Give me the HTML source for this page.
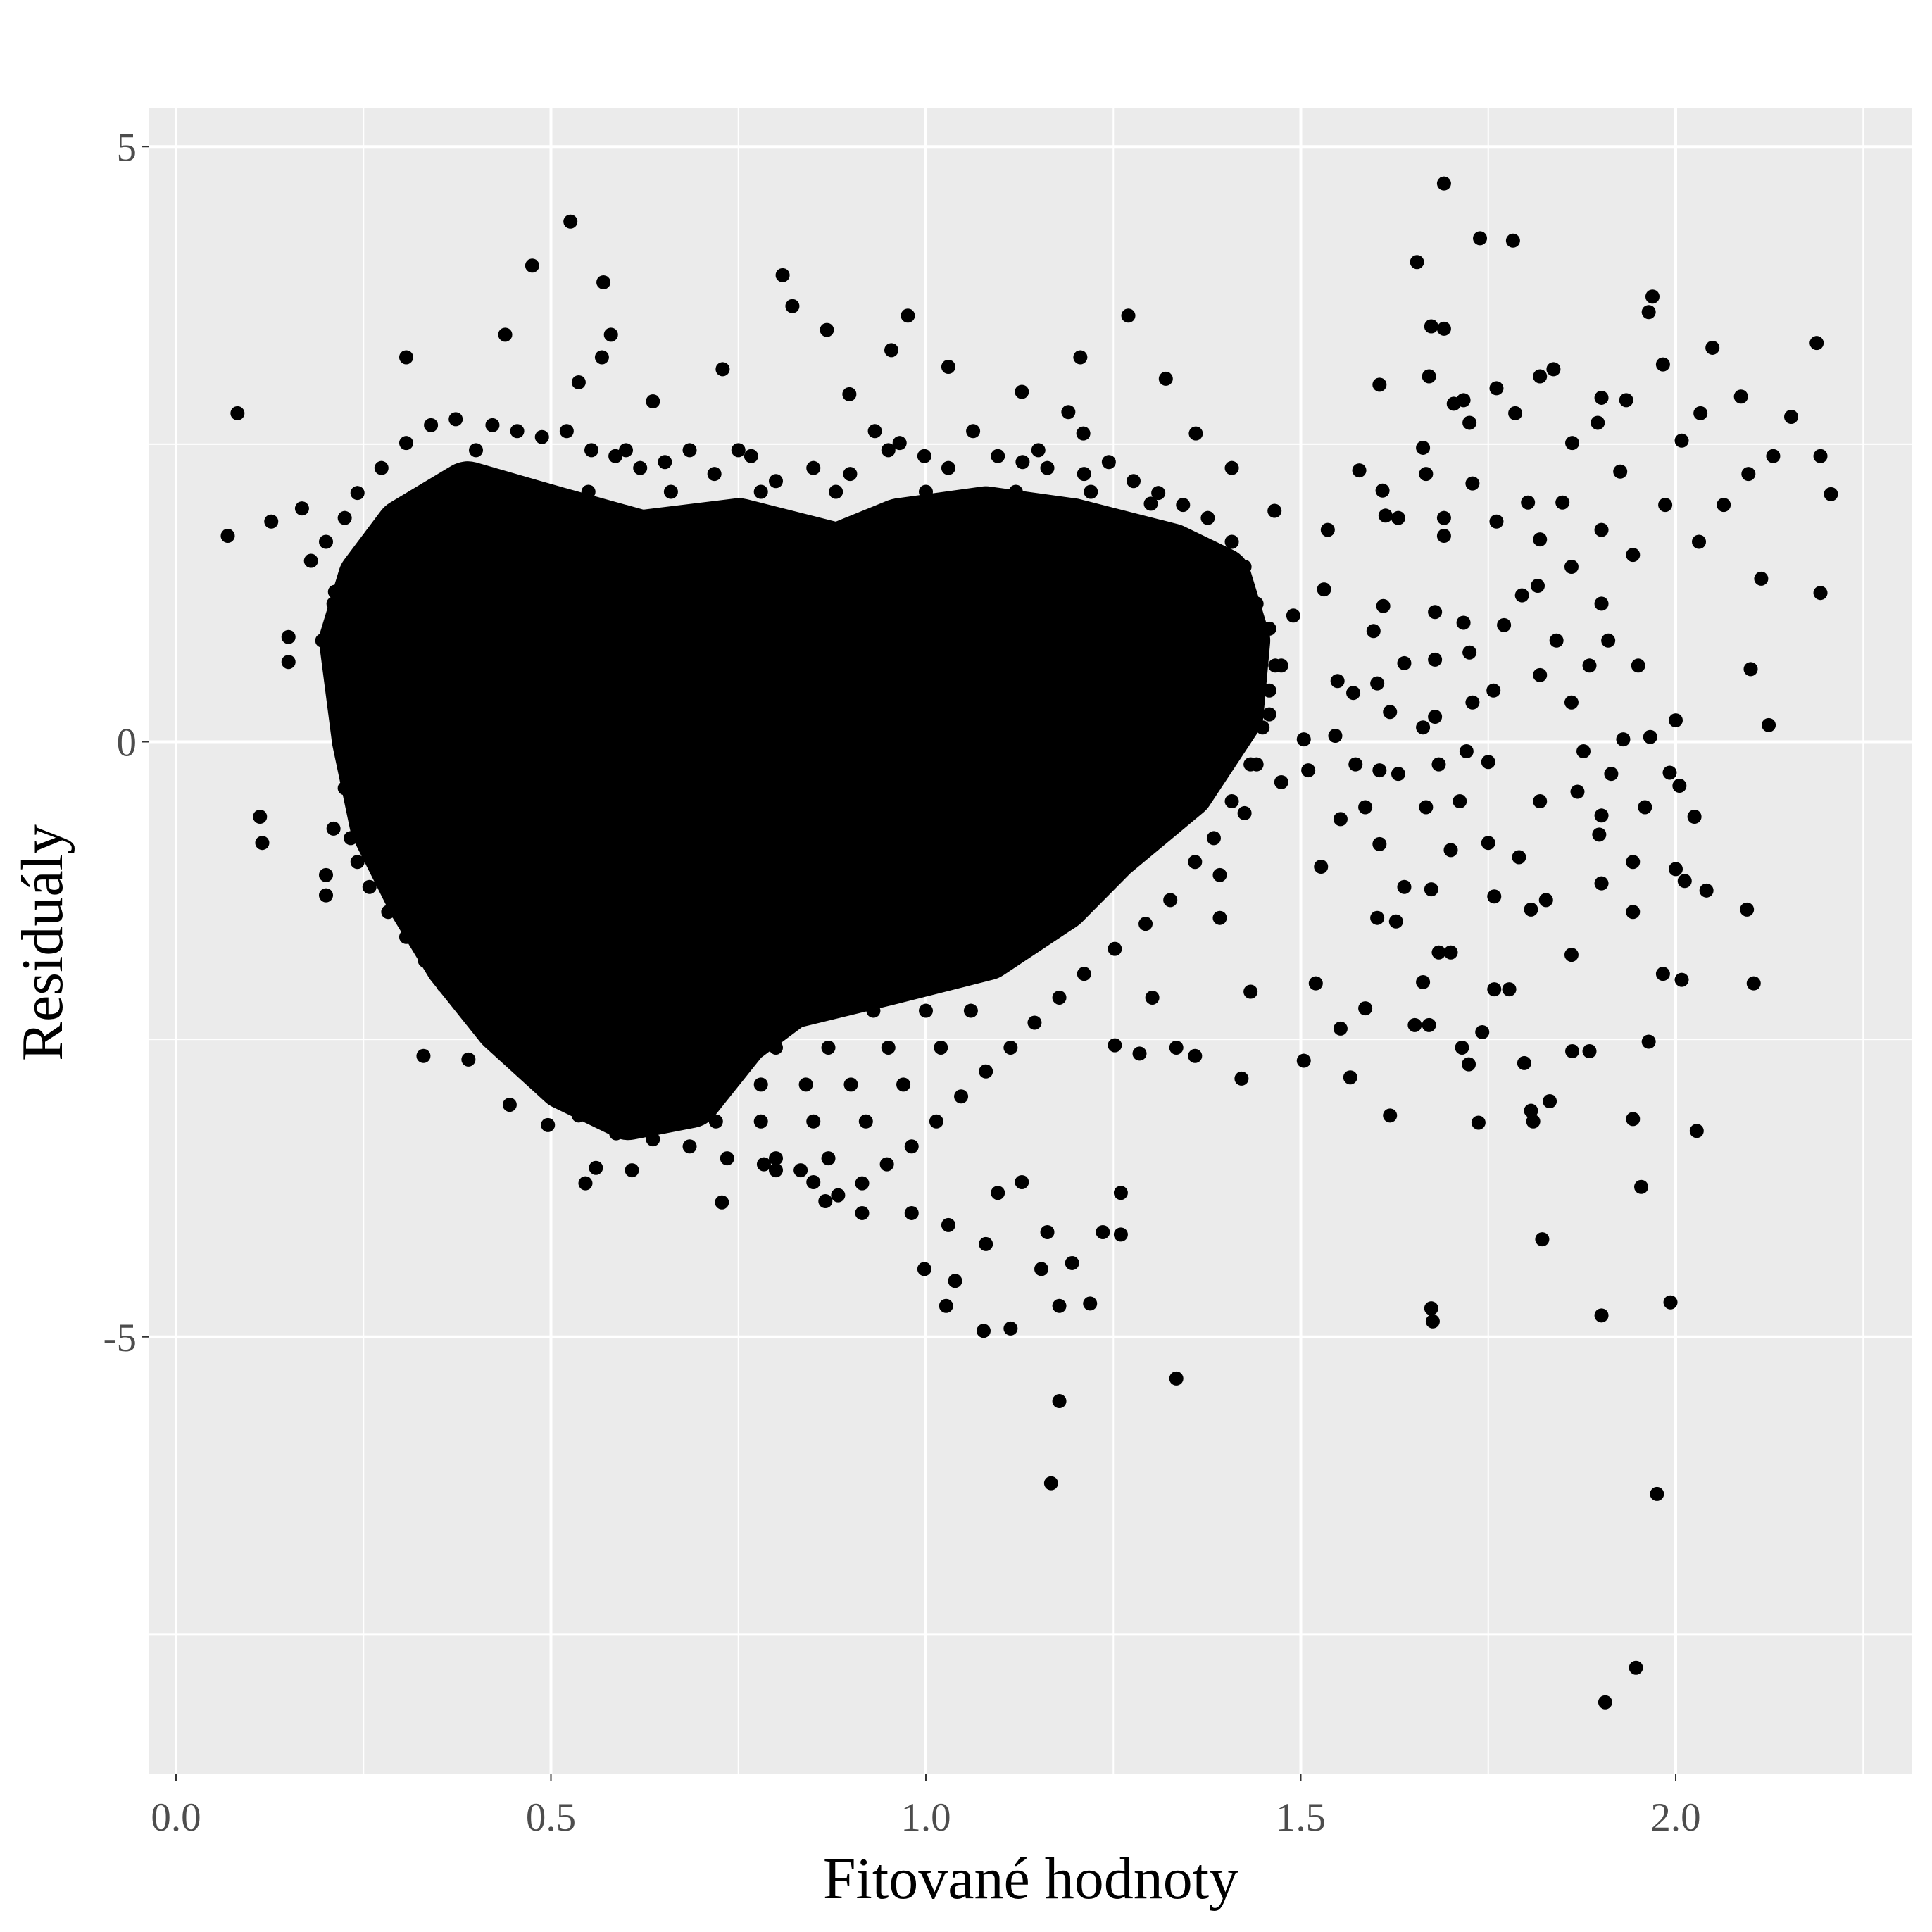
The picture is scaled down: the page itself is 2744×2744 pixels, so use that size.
<!DOCTYPE html>
<html><head><meta charset="utf-8"><style>
html,body{margin:0;padding:0;background:#fff;}
svg{display:block;}
text{font-family:"Liberation Serif",serif;}
</style></head><body>
<svg id="chart" width="2744" height="2744" viewBox="0 0 2744 2744" xmlns="http://www.w3.org/2000/svg"></svg>
<script>
const xMajorTicks=[0,0.5,1.0,1.5,2.0];
const xTickLabels=["0.0","0.5","1.0","1.5","2.0"];
const xMinorTicks=[0.25,0.75,1.25,1.75,2.25];
const yMajorTicks=[5,0,-5];
const yTickLabels=["5","0","-5"];
const yMinorTicks=[2.5,-2.5,-7.5];
// dense core region of points (fitted, residual)
const blobFitted=[0.258,0.307,0.389,0.505,0.62,0.751,0.883,0.965,1.08,1.195,1.326,1.392,1.417,1.408,1.343,1.244,1.178,1.08,0.948,0.817,0.751,0.685,0.603,0.521,0.439,0.373,0.324,0.274,0.25,0.233];
const blobResid=[1.37,1.78,2.09,1.88,1.68,1.78,1.57,1.78,1.88,1.78,1.57,1.37,0.85,0.23,-0.39,-0.91,-1.33,-1.74,-1.95,-2.15,-2.46,-2.98,-3.08,-2.83,-2.36,-1.84,-1.33,-0.70,0.02,0.85];
// points along the fuzzy edge of the dense cloud
const edgePts=[[0.225,1.88],[0.242,2.09],[0.274,2.30],[0.307,2.51],[0.34,2.66],[0.373,2.71],[0.422,2.66],[0.455,2.61],[0.488,2.56],[0.521,2.61],[0.554,2.45],[0.586,2.40],[0.619,2.30],[0.652,2.35],[0.685,2.45],[0.718,2.25],[0.767,2.40],[0.80,2.19],[0.85,2.30],[0.899,2.25],[0.932,2.61],[0.965,2.51],[0.998,2.40],[1.03,2.30],[1.063,2.61],[1.096,2.40],[1.129,2.35],[1.162,2.30],[1.211,2.25],[1.244,2.35],[1.277,2.19],[1.31,2.09],[1.343,1.99],[1.376,1.88],[1.408,1.68],[1.425,1.47],[1.441,1.16],[1.458,0.95],[1.466,0.64],[1.458,0.43],[1.449,0.12],[1.433,-0.19],[1.408,-0.50],[1.384,-0.81],[1.359,-1.01],[1.326,-1.33],[1.293,-1.53],[1.252,-1.74],[1.211,-1.95],[1.178,-2.15],[1.145,-2.36],[1.113,-2.57],[1.08,-2.77],[1.047,-2.98],[1.014,-3.19],[0.981,-3.40],[0.948,-3.55],[0.915,-3.71],[0.883,-3.81],[0.833,-3.60],[0.784,-3.55],[0.735,-3.50],[0.685,-3.40],[0.636,-3.34],[0.587,-3.29],[0.537,-3.14],[0.488,-2.88],[0.447,-2.67],[0.422,-2.46],[0.389,-2.26],[0.357,-2.05],[0.332,-1.84],[0.307,-1.64],[0.283,-1.43],[0.258,-1.22],[0.242,-1.01],[0.233,-0.81],[0.225,-0.39],[0.217,0.02],[0.209,0.43],[0.205,0.85],[0.212,1.26]];
// additional points filling the fringe of the cloud
const fillPts=[[0.85,-2.26],[0.93,-2.26],[1.0,-2.26],[1.06,-2.26],[0.8,-2.57],[0.87,-2.57],[0.95,-2.57],[1.02,-2.57],[0.78,-2.88],[0.84,-2.88],[0.9,-2.88],[0.97,-2.88],[0.72,-3.19],[0.78,-3.19],[0.85,-3.19],[0.92,-3.19],[0.8,-3.5],[0.87,-3.5],[0.45,2.1],[0.55,2.1],[0.66,2.1],[0.78,2.1],[0.88,2.1],[1.0,2.1],[1.12,2.1],[1.22,2.1],[1.3,2.0],[0.4,2.45],[0.6,2.45],[0.75,2.45],[0.95,2.45],[1.15,2.45]];
const pts=[[0.082,2.76],[0.069,1.73],[0.127,1.85],[0.168,1.96],[0.15,0.88],[0.15,0.67],[0.112,-0.63],[0.115,-0.85],[0.2,-1.12],[0.2,-1.29],[0.21,-0.73],[0.24,-0.57],[0.18,1.52],[0.2,1.68],[0.21,1.16],[0.195,0.85],[0.23,0.33],[0.33,-2.64],[0.39,-2.67],[0.496,-3.22],[0.445,-3.05],[0.546,-3.71],[0.56,-3.58],[0.608,-3.6],[0.728,-3.87],[0.307,3.23],[0.439,3.42],[0.475,4.0],[0.526,4.37],[0.57,3.86],[0.58,3.42],[0.568,3.23],[0.537,3.02],[0.809,3.92],[0.822,3.66],[0.868,3.46],[0.976,3.58],[0.954,3.29],[1.03,3.15],[0.729,3.13],[0.636,2.86],[0.898,2.92],[1.206,3.23],[1.27,3.58],[1.32,3.05],[1.128,2.94],[1.19,2.77],[1.21,2.59],[1.36,2.59],[1.408,2.3],[1.465,1.94],[1.536,1.78],[1.531,1.28],[1.49,1.06],[1.474,0.64],[1.458,0.23],[1.441,-0.19],[1.425,-0.6],[1.392,-1.12],[1.392,-1.48],[1.433,-2.1],[1.421,-2.83],[1.359,-2.64],[1.334,-2.57],[1.302,-2.15],[1.285,-2.62],[1.252,-2.55],[1.26,-3.79],[1.26,-4.14],[1.236,-4.12],[1.219,-4.72],[1.195,-4.38],[1.178,-4.74],[1.162,-4.12],[1.154,-4.43],[1.08,-4.22],[1.077,-4.95],[1.113,-4.93],[1.027,-4.74],[0.998,-4.43],[1.039,-4.53],[1.03,-4.06],[0.981,-3.96],[0.915,-3.96],[0.866,-3.86],[0.85,-3.7],[0.8,-3.6],[1.096,-3.79],[1.128,-3.7],[1.178,-5.54],[1.167,-6.23],[1.334,-5.35],[1.504,-2.68],[1.52,-2.03],[1.553,-2.41],[1.566,-2.82],[1.586,-2.24],[1.619,-3.14],[1.527,-1.05],[1.553,-0.65],[1.586,-0.55],[1.602,-1.48],[1.627,-1.51],[1.605,-0.86],[1.638,-1.22],[1.652,-2.38],[1.671,-2.38],[1.663,-2.02],[1.684,-1.77],[1.674,-1.24],[1.667,-0.55],[1.7,-0.91],[1.712,-0.5],[1.684,-0.19],[1.721,-0.08],[1.75,-0.17],[1.7,-1.77],[1.715,-2.57],[1.724,-2.71],[1.737,-3.2],[1.742,-2.44],[1.758,-2.08],[1.778,-2.08],[1.758,-1.3],[1.75,-0.85],[1.791,-0.97],[1.798,-2.7],[1.807,-3.1],[1.832,-3.02],[1.81,-3.19],[1.822,-4.18],[1.807,-1.41],[1.827,-1.33],[1.674,-4.76],[1.676,-4.87],[1.901,-4.82],[1.906,-8.07],[1.947,-7.78],[1.975,-6.32],[1.993,-4.71],[1.954,-3.74],[1.943,-3.17],[1.964,-2.52],[1.983,-1.95],[2.008,-2.0],[2.028,-3.27],[2.104,-2.03],[2.095,-1.41],[2.041,-1.25],[2.0,-1.07],[2.012,-1.17],[2.025,-0.63],[2.005,-0.37],[1.992,-0.26],[1.959,-0.55],[1.943,-1.01],[1.943,-1.43],[1.901,-1.19],[1.901,-0.62],[1.898,-0.78],[1.885,-2.6],[1.862,-2.6],[1.861,-1.79],[1.869,-0.42],[1.914,-0.27],[1.877,-0.08],[1.93,0.02],[1.966,0.04],[2.0,0.18],[2.124,0.14],[2.1,0.61],[2.114,1.37],[2.064,1.99],[2.031,1.68],[2.097,2.25],[2.13,2.4],[2.154,2.73],[2.188,3.35],[2.193,2.4],[2.207,2.08],[2.193,1.25],[2.049,3.31],[2.087,2.9],[2.033,2.76],[2.008,2.53],[1.983,3.17],[1.969,3.74],[1.964,3.61],[1.934,2.87],[1.901,2.89],[1.896,2.68],[1.926,2.27],[1.901,1.78],[1.943,1.57],[1.901,1.16],[1.91,0.85],[1.95,0.64],[1.986,1.99],[1.862,2.51],[1.837,3.13],[1.819,3.07],[1.786,2.76],[1.761,2.97],[1.783,4.21],[1.739,4.23],[1.691,4.69],[1.655,4.03],[1.674,3.49],[1.691,3.47],[1.671,3.07],[1.704,2.84],[1.717,2.87],[1.725,2.68],[1.663,2.47],[1.667,2.25],[1.605,3.0],[1.578,2.28],[1.613,1.9],[1.63,1.88],[1.609,2.11],[1.691,1.88],[1.691,1.73],[1.729,2.17],[1.761,1.85],[1.803,2.01],[1.819,1.7],[1.849,2.01],[1.861,1.47],[1.816,1.31],[1.795,1.23],[1.771,0.98],[1.717,1.0],[1.679,1.09],[1.61,1.14],[1.597,0.93],[1.638,0.66],[1.679,0.69],[1.725,0.75],[1.757,0.43],[1.729,0.33],[1.679,0.21],[1.663,0.12],[1.619,0.25],[1.602,0.49],[1.57,0.41],[1.549,0.51],[1.546,0.05],[1.573,-0.19],[1.605,-0.24],[1.63,-0.27],[1.504,0.02],[1.51,-0.24],[1.474,-0.34],[1.819,0.56],[1.861,0.33],[1.841,0.85],[1.885,0.64],[1.819,-0.5]];

const NS="http://www.w3.org/2000/svg";
const svg=document.getElementById('chart');
const P={l:212,r:2716,t:154,b:2520};
const X=v=>250+v*1065;
const Y=v=>1053.5-v*169.05;
function mk(tag,attrs,parent){const e=document.createElementNS(NS,tag);for(const k in attrs)e.setAttribute(k,attrs[k]);(parent||svg).appendChild(e);return e;}

const bg=mk('rect',{x:P.l,y:P.t,width:P.r-P.l,height:P.b-P.t,fill:'#EBEBEB'});


const grid=mk('g',{});


xMinorTicks.forEach(v=>mk('line',{x1:X(v),x2:X(v),y1:P.t,y2:P.b,stroke:'#fff','stroke-width':2},grid));
yMinorTicks.forEach(v=>mk('line',{x1:P.l,x2:P.r,y1:Y(v),y2:Y(v),stroke:'#fff','stroke-width':2},grid));
xMajorTicks.forEach(v=>mk('line',{x1:X(v),x2:X(v),y1:P.t,y2:P.b,stroke:'#fff','stroke-width':4},grid));
yMajorTicks.forEach(v=>mk('line',{x1:P.l,x2:P.r,y1:Y(v),y2:Y(v),stroke:'#fff','stroke-width':4},grid));

const clip=mk('clipPath',{id:'pc'});mk('rect',{x:P.l,y:P.t,width:P.r-P.l,height:P.b-P.t},clip);
const pg=mk('g',{'clip-path':'url(#pc)'});


const poly=mk('polygon',{points:blobFitted.map((f,i)=>X(f)+','+Y(blobResid[i])).join(' '),fill:'#000',stroke:'#000','stroke-width':90,'stroke-linejoin':'round'},pg);


edgePts.concat(fillPts,pts).forEach(p=>{const c=mk('circle',{cx:X(p[0]),cy:Y(p[1]),r:10,fill:'#000'},pg);

});

const ax=mk('g',{});


xMajorTicks.forEach((v,i)=>{mk('line',{x1:X(v),x2:X(v),y1:P.b,y2:P.b+10,stroke:'#333','stroke-width':2},ax);
const t=mk('text',{x:X(v),y:2600,'font-size':57,fill:'#4D4D4D','text-anchor':'middle'},ax);t.textContent=xTickLabels[i];

});
yMajorTicks.forEach((v,i)=>{mk('line',{x1:P.l-10,x2:P.l,y1:Y(v),y2:Y(v),stroke:'#333','stroke-width':2},ax);
const t=mk('text',{x:P.l-18,y:Y(v)+20,'font-size':57,fill:'#4D4D4D','text-anchor':'end'},ax);t.textContent=yTickLabels[i];

});
const xt=mk('text',{x:1464,y:2696,'font-size':84,fill:'#000','text-anchor':'middle'});xt.textContent='Fitované hodnoty';


const yt=mk('text',{x:0,y:0,'font-size':84,fill:'#000','text-anchor':'middle',transform:'translate(88,1339) rotate(-90)'});yt.textContent='Residuály';


</script>
</body></html>
